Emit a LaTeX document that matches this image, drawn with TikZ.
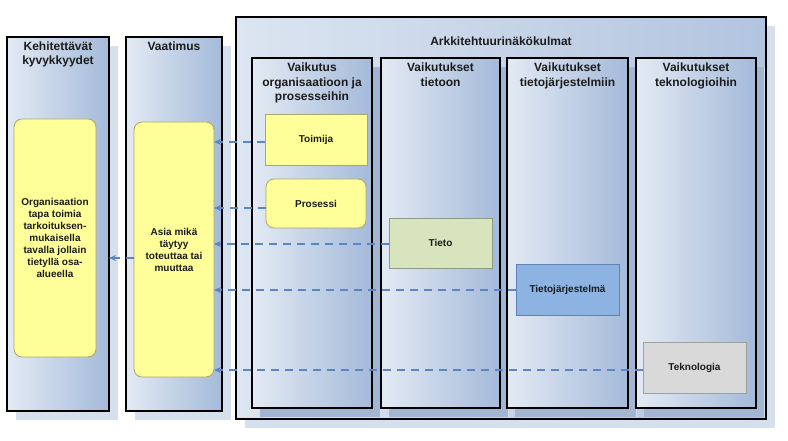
\documentclass[tikz,border=0pt]{standalone}
\usepackage{fontspec}
\setmainfont{Liberation Sans}
\usetikzlibrary{positioning, shadows, arrows.meta, calc}

\definecolor{colLight}{HTML}{E3EAF4}
\definecolor{colDark}{HTML}{A4BAD9}
\definecolor{outerLight}{HTML}{DCE5F1}
\definecolor{outerDark}{HTML}{B2C4DF}
\definecolor{shadowBlue}{HTML}{D6E0ED}
\definecolor{shadowDark}{HTML}{A2B6D4}
\definecolor{capYellow}{HTML}{FFFF99}
\definecolor{capEdge}{HTML}{ABA66C}
\definecolor{tietoFill}{HTML}{D7E4BD}
\definecolor{tietoEdge}{HTML}{8C9A86}
\definecolor{tjFill}{HTML}{8DB3E2}
\definecolor{tjEdge}{HTML}{5F82B4}
\definecolor{tekFill}{HTML}{D9D9D9}
\definecolor{tekEdge}{HTML}{A0A0A0}
\definecolor{flowBlue}{HTML}{5A86C4}
\definecolor{darkText}{HTML}{1C1C1C}

\tikzset{
  column/.style={draw=black, line width=1.5pt, inner sep=0pt, outer sep=0pt, anchor=north west,
    left color=colLight, right color=colDark,
    drop shadow={shadow xshift=9pt, shadow yshift=-9pt, fill=shadowBlue, draw=none, opacity=1}},
  subcolumn/.style={column,
    drop shadow={shadow xshift=8pt, shadow yshift=-9pt, fill=shadowDark, draw=none, opacity=1}},
  coltitle/.style={font=\bfseries\fontsize{12}{13.5}\selectfont, align=center, text=darkText, inner sep=0pt},
  item/.style={draw, line width=0.8pt, inner sep=0pt, outer sep=0pt, anchor=north west,
    font=\bfseries\fontsize{10}{12}\selectfont, text=darkText, align=center},
  capbox/.style={item, draw=capEdge, fill=capYellow},
  flow/.style={draw=flowBlue, line width=1.4pt, dash pattern=on 8pt off 6pt,
    -{Stealth[length=7pt, width=6pt]}}
}

\begin{document}
\begin{tikzpicture}[x=1pt, y=-1pt]
        \useasboundingbox (0,0) rectangle (788,441);

        % vasemmat sarakkeet
        \node[column, minimum width=102pt, minimum height=374pt] (Kk) at (7,37) {};
        \node[coltitle, below=5pt of Kk.north] (Kkt) {Kehitettävät\\kyvykkyydet};
        \node[column, minimum width=96pt, minimum height=374pt] (Va) at (126,37) {};
        \node[coltitle, below=5pt of Va.north] (Vat) {Vaatimus};

        % arkkitehtuurinäkökulmat
        \node[column, left color=outerLight, right color=outerDark, minimum width=530pt, minimum height=402pt] (Ak) at (236,17) {};
        \node[coltitle, below=20pt of Ak.north] (Akt) {Arkkitehtuurinäkökulmat};
        \node[subcolumn, minimum width=120pt, minimum height=350pt] (S1) at (252,58) {};
        \node[subcolumn, minimum width=119pt, minimum height=350pt] (S2) at (381,58) {};
        \node[subcolumn, minimum width=121pt, minimum height=350pt] (S3) at (507,58) {};
        \node[subcolumn, minimum width=120pt, minimum height=350pt] (S4) at (636,58) {};
        \node[coltitle, font=\bfseries\fontsize{12}{14.5}\selectfont, below=5pt of S1.north] (S1t) {Vaikutus\\organisaatioon ja\\prosesseihin};
        \node[coltitle, font=\bfseries\fontsize{12}{14.5}\selectfont, below=5pt of S2.north] (S2t) {Vaikutukset\\tietoon};
        \node[coltitle, font=\bfseries\fontsize{12}{14.5}\selectfont, below=5pt of S3.north] (S3t) {Vaikutukset\\tietojärjestelmiin};
        \node[coltitle, font=\bfseries\fontsize{12}{14.5}\selectfont, below=5pt of S4.north] (S4t) {Vaikutukset\\teknologioihin};

        % laatikot
        \node[capbox, rounded corners=8pt, minimum width=82pt, minimum height=238pt] (Ky) at (14,119)
          {Organisaation\\tapa toimia\\tarkoituksen-\\mukaisella\\tavalla jollain\\tietyllä osa-\\alueella};
        \node[capbox, rounded corners=8pt, minimum width=80pt, minimum height=255pt] (Vy) at (134,122)
          {Asia mikä\\täytyy\\toteuttaa tai\\muuttaa};
        \node[capbox, minimum width=102pt, minimum height=51pt] (Tm) at (265,114) {Toimija};
        \node[capbox, rounded corners=8pt, minimum width=100pt, minimum height=49pt] (Pr) at (266,179) {Prosessi};
        \node[item, draw=tietoEdge, fill=tietoFill, minimum width=103pt, minimum height=50pt] (Ti) at (389,218) {Tieto};
        \node[item, draw=tjEdge, fill=tjFill, minimum width=103pt, minimum height=51pt] (Tj) at (516,264) {Tietojärjestelmä};
        \node[item, draw=tekEdge, fill=tekFill, minimum width=103pt, minimum height=51pt] (Te) at (643,342) {Teknologia};

        % nuolet
        \draw[flow] ([yshift=-2.5pt]Tm.west) -- ([yshift=-2.5pt]Tm.west -| Vy.east);
        \draw[flow] ([yshift=-4.5pt]Pr.west) -- ([yshift=-4.5pt]Pr.west -| Vy.east);
        \draw[flow] ([yshift=-1pt]Ti.west) -- ([yshift=-1pt]Ti.west -| Vy.east);
        \draw[flow] ([yshift=-0.5pt]Tj.west) -- ([yshift=-0.5pt]Tj.west -| Vy.east);
        \draw[flow] ([yshift=-2.5pt]Te.west) -- ([yshift=-2.5pt]Te.west -| Vy.east);
        \draw[flow] ([yshift=-8.5pt]Vy.west) -- ([yshift=-8.5pt]Vy.west -| Kk.east);
\end{tikzpicture}
\end{document}
